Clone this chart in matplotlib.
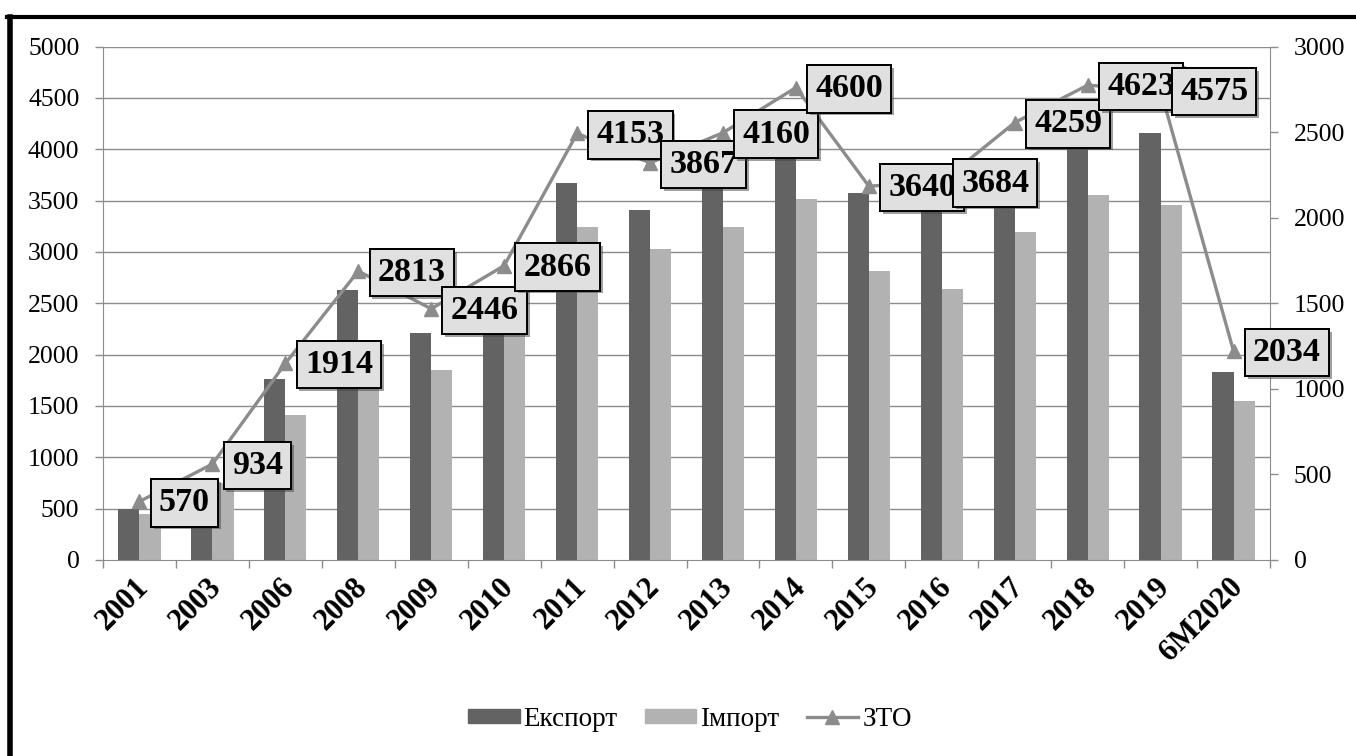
import matplotlib

matplotlib.use("Agg")
import matplotlib.pyplot as plt
import matplotlib.patheffects as pe
import matplotlib.transforms as mtransforms
from matplotlib.font_manager import FontProperties
from matplotlib.lines import Line2D
from matplotlib.patches import Patch

FAM = "Liberation Serif"
plt.rcParams["font.family"] = FAM

# дані
years = ["2001", "2003", "2006", "2008", "2009", "2010", "2011", "2012",
         "2013", "2014", "2015", "2016", "2017", "2018", "2019", "6M2020"]
export = [296, 477, 1058, 1578, 1328, 1480, 2200, 2045,
          2214, 2490, 2146, 2098, 2343, 2489, 2494, 1096]
imports = [268, 447, 850, 1235, 1110, 1386, 1948, 1817,
           1946, 2110, 1686, 1586, 1916, 2134, 2075, 927]
zto = [570, 934, 1914, 2813, 2446, 2866, 4153, 3867,
       4160, 4600, 3640, 3684, 4259, 4623, 4575, 2034]

W, H = 1356, 756
fig = plt.figure(figsize=(W / 100, H / 100), dpi=100)

# рамка (ліва і верхня чорні лінії)
fig.add_artist(Line2D([9.5 / W, 9.5 / W], [0, 1 - 17 / H], color="black",
                      lw=4, transform=fig.transFigure))
fig.add_artist(Line2D([7 / W, 1], [1 - 17 / H, 1 - 17 / H], color="black",
                      lw=3, transform=fig.transFigure))

left, right, top, bottom = 103, 1270, 46.5, 560
ax = fig.add_axes([left / W, 1 - bottom / H, (right - left) / W, (bottom - top) / H])
ax_l = ax.twinx()

x = list(range(len(years)))
bw = 0.29
grey = "#8c8c8c"

# стовпці — права вісь 0..3000
ax.bar([i - bw / 2 for i in x], export, bw, color="#636363", zorder=2)
ax.bar([i + bw / 2 for i in x], imports, bw, color="#b2b2b2", zorder=2)
ax.set_ylim(0, 3000)
ax.set_xlim(-0.5, len(years) - 0.5)
for v in range(300, 3001, 300):
    ax.axhline(v, color=grey, lw=1, zorder=0)
ax.yaxis.tick_right()
ax.set_yticks(range(0, 3001, 500))
ax.tick_params(axis="y", direction="out", length=6, width=1, color=grey,
               labelsize=18.5, pad=11)

ax.set_xticks([i + 0.5 for i in range(-1, len(years))], minor=True)
ax.set_xticks(x)
ax.set_xticklabels(years, rotation=45, ha="right", va="top",
                   rotation_mode="anchor", fontsize=22, fontweight="bold",
                   family=FAM)
ax.tick_params(axis="x", which="major", length=0, pad=9)
ax.tick_params(axis="x", which="minor", length=6, width=1, color=grey)
# трохи зсунути підписи років ліворуч, як в Excel
shift = mtransforms.ScaledTranslation(-5 / 100, 0, fig.dpi_scale_trans)
for lab in ax.get_xticklabels():
    lab.set_transform(lab.get_transform() + shift)

for s in ["left", "right", "bottom"]:
    ax.spines[s].set_color(grey)
ax.spines["top"].set_visible(False)

# лінія ЗТО — ліва вісь 0..5000
ax_l.plot(x, zto, color=grey, lw=2.4, marker="^", markersize=10, zorder=3)
ax_l.set_ylim(0, 5000)
ax_l.yaxis.tick_left()
ax_l.set_yticks(range(0, 5001, 500))
ax_l.tick_params(axis="y", direction="out", length=6, width=1, color=grey,
                 labelsize=18.5, pad=11)
for s in ax_l.spines.values():
    s.set_visible(False)

for i, v in enumerate(zto):
    t = ax_l.annotate(str(v), (i, v), xytext=(14, -1), textcoords="offset points",
                      ha="left", va="center", fontsize=24.5, fontweight="bold",
                      family=FAM,
                      bbox=dict(boxstyle="square,pad=0.24", fc="#e0e0e0",
                                ec="black", lw=1.4), zorder=5)
    t.get_bbox_patch().set_path_effects(
        [pe.withSimplePatchShadow(offset=(2, -2), alpha=0.5), pe.Normal()])

handles = [Patch(color="#636363"), Patch(color="#b2b2b2"),
           Line2D([], [], color=grey, lw=2.4, marker="^", markersize=10)]
fig.legend(handles, ["Експорт", "Імпорт", "ЗТО"], loc="center",
           bbox_to_anchor=(690 / W, 1 - 719 / H), ncol=3, frameon=False,
           prop=FontProperties(family=FAM, size=19.5), handlelength=1.9,
           handleheight=0.4, handletextpad=0.15, columnspacing=1.0)

fig.savefig("out.png", dpi=100)
